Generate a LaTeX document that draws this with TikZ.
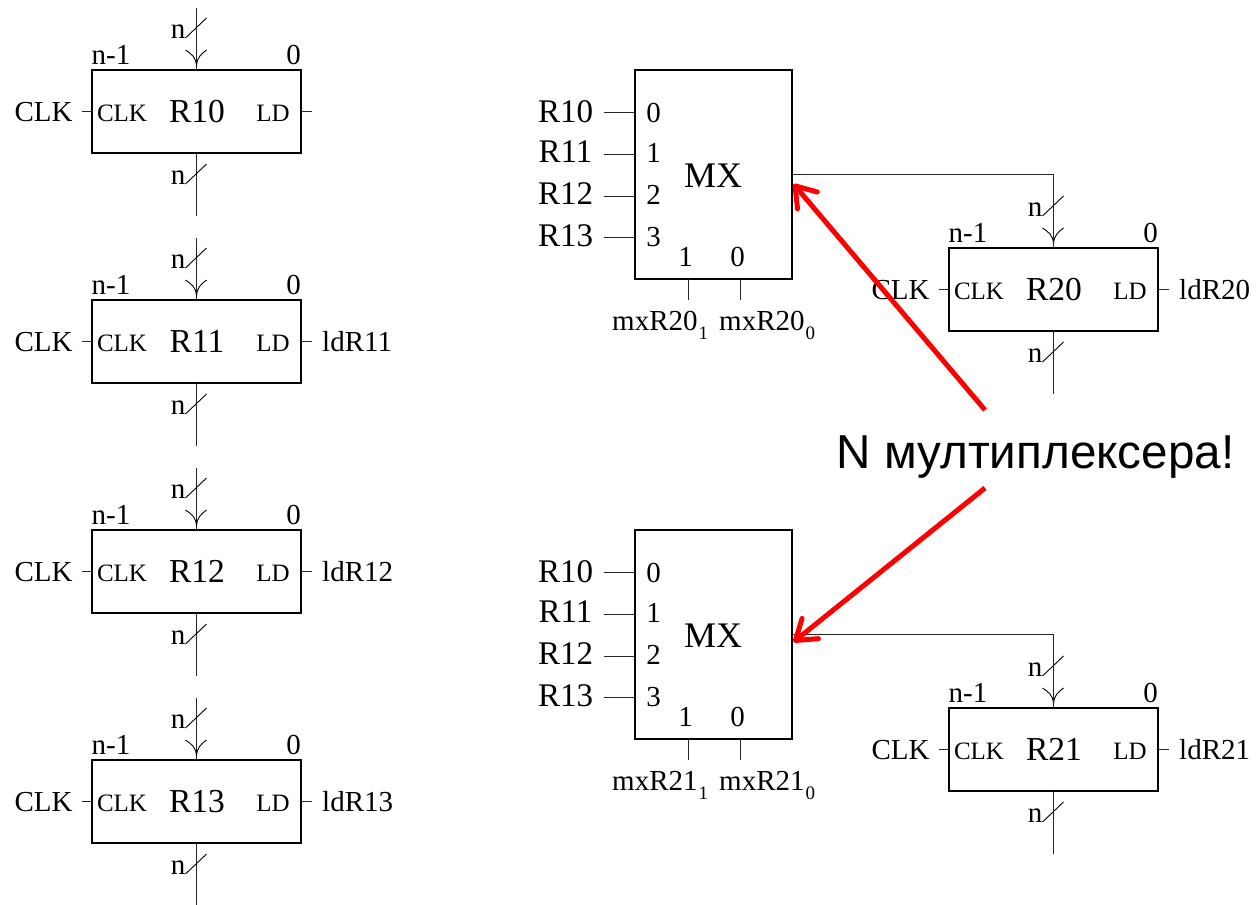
\documentclass[tikz,border=0pt]{standalone}
\usepackage{fontspec}
\setmainfont{Liberation Serif}
\newfontfamily\redfont{Liberation Sans}
\usetikzlibrary{arrows.meta,calc}
\newcommand{\fs}[1]{\fontsize{#1}{#1}\selectfont}
\tikzset{
 x=1pt,y=-1pt,
 wire/.style={line width=1pt,black!85},
 thinw/.style={line width=.9pt},
 boxn/.style={draw,line width=1.4pt,inner sep=0,outer sep=0,fill=white},
 big/.style={anchor=base,inner sep=0,font=\fs{29}},
 big2/.style={anchor=base,inner sep=0,font=\fs{33}},
 mid/.style={anchor=base,inner sep=0,font=\fs{25}},
 title/.style={anchor=base,inner sep=0,font=\fs{33.5}},
 mxt/.style={anchor=base,inner sep=0,font=\fs{36}},
 redarrow/.style={draw=red,line width=5pt,-{Straight Barb[length=19pt,width=26pt,line width=5pt,round]}},
 redtext/.style={anchor=base,inner sep=0,font=\redfont\fs{47.6}},
}
\newcommand{\Reg}[5]{% name, left x, top y, title, load label
 \node[boxn,minimum width=209pt,minimum height=83pt,anchor=north west] (#1) at (#2,#3) {};
 \coordinate (#1t) at ([yshift=62pt]#1.north);
 \coordinate (#1b) at ([yshift=-63pt]#1.south);
 \coordinate (#1c) at ([xshift=-10pt]#1.west);
 \coordinate (#1d) at ([xshift=11pt]#1.east);
 \draw[wire] (#1t) -- (#1.north);
 \draw[wire] (#1.south) -- (#1b);
 \draw[wire] (#1c) -- (#1.west);
 \draw[wire] (#1.east) -- (#1d);
 \draw[thinw] ([shift={(-11pt,32pt)}]#1.north) -- ([shift={(10pt,52pt)}]#1.north);
 \draw[thinw] ([shift={(-11pt,-31pt)}]#1.south) -- ([shift={(10pt,-11pt)}]#1.south);
 \draw[thinw] ([shift={(-11pt,20pt)}]#1.north) .. controls ([shift={(-5pt,16pt)}]#1.north) and ([shift={(-.5pt,13pt)}]#1.north) .. ([shift={(0pt,4pt)}]#1.north);
 \draw[thinw] ([shift={(10pt,20pt)}]#1.north) .. controls ([shift={(5pt,16pt)}]#1.north) and ([shift={(.5pt,13pt)}]#1.north) .. ([shift={(0pt,4pt)}]#1.north);
 \node[big] (#1nt) at ($(#2,#3)+(86,-32)$) {n};
 \node[big] (#1nb) at ($(#2,#3)+(86,114)$) {n};
 \node[big] (#1hi) at ($(#2,#3)+(19,-6)$) {n-1};
 \node[big] (#1lo) at ($(#2,#3)+(201.5,-6)$) {0};
 \node[big] (#1clk) at ($(#2,#3)+(-48.5,51)$) {CLK};
 \node[mid] (#1iclk) at ($(#2,#3)+(30,51)$) {CLK};
 \node[mid] (#1ild) at ($(#2,#3)+(181,51)$) {LD};
 \node[title] (#1name) at ($(#2,#3)+(105,52.5)$) {#4};
 \node[big,anchor=base west] (#1ld) at ($(#2,#3)+(230,51)$) {#5};
}
\newcommand{\Mux}[3]{% name, top y, subscripted base
 \node[boxn,minimum width=157pt,minimum height=209pt,anchor=north west] (#1) at (635,#2) {};
 \coordinate (#1c) at ($(#1.south west)+(53,21)$);
 \coordinate (#1e) at ($(#1.south west)+(105,21)$);
 \coordinate (#1cs) at ($(#1.south west)+(53,0)$);
 \coordinate (#1es) at ($(#1.south west)+(105,0)$);
 \draw[wire] (#1cs) -- (#1c);
 \draw[wire] (#1es) -- (#1e);
 \foreach \i/\dy/\by/\lab in {0/42/52/R10,1/84/92/R11,2/126/134/R12,3/167/176/R13}{
  \coordinate (#1p\i) at ($(#1.north west)+(0,\dy)$);
  \coordinate (#1q\i) at ($(#1.north west)+(-31,\dy)$);
  \draw[wire] (#1q\i) -- (#1p\i);
  \node[big2] (#1l\i) at ($(#1.north west)+(-69.5,\by)$) {\lab};
  \node[big] (#1n\i) at ($(#1.north west)+(18.5,\by)$) {\i};
 }
 \node[mxt] (#1name) at ($(#1.north west)+(78,117)$) {MX};
 \node[big] (#1s1) at ($(#1.north west)+(50.5,196)$) {1};
 \node[big] (#1s0) at ($(#1.north west)+(102.5,196)$) {0};
 \node[big,anchor=base west] (#1m1) at ($(#1.north west)+(-23,260)$) {mx#3\kern1pt\raisebox{-9pt}{\fs{19}1}};
 \node[big,anchor=base west] (#1m0) at ($(#1.north west)+(84,260)$) {mx#3\kern1pt\raisebox{-9pt}{\fs{19}0}};
}
\begin{document}
\begin{tikzpicture}
\useasboundingbox (0,0) rectangle (1256,905);
\Reg{A}{92}{70}{R10}{}
\Reg{B}{92}{300}{R11}{ldR11}
\Reg{C}{92}{530}{R12}{ldR12}
\Reg{D}{92}{760}{R13}{ldR13}
\Reg{E}{949}{248}{R20}{ldR20}
\Reg{F}{949}{708}{R21}{ldR21}
\Mux{M}{70}{R20}
\Mux{N}{530}{R21}
\draw[wire] (M.east) -| (E.north);
\draw[wire] (N.east) -| (F.north);
\node[redtext] (T) at (1035.5,468) {N мултиплексера!};
\coordinate (ra) at (985,410);
\coordinate (rb) at (985,488);
\coordinate (ta) at (793.5,184);
\coordinate (tb) at (793.5,642);
\draw[redarrow] (ra) -- (ta);
\draw[redarrow] (rb) -- (tb);
\end{tikzpicture}
\end{document}
